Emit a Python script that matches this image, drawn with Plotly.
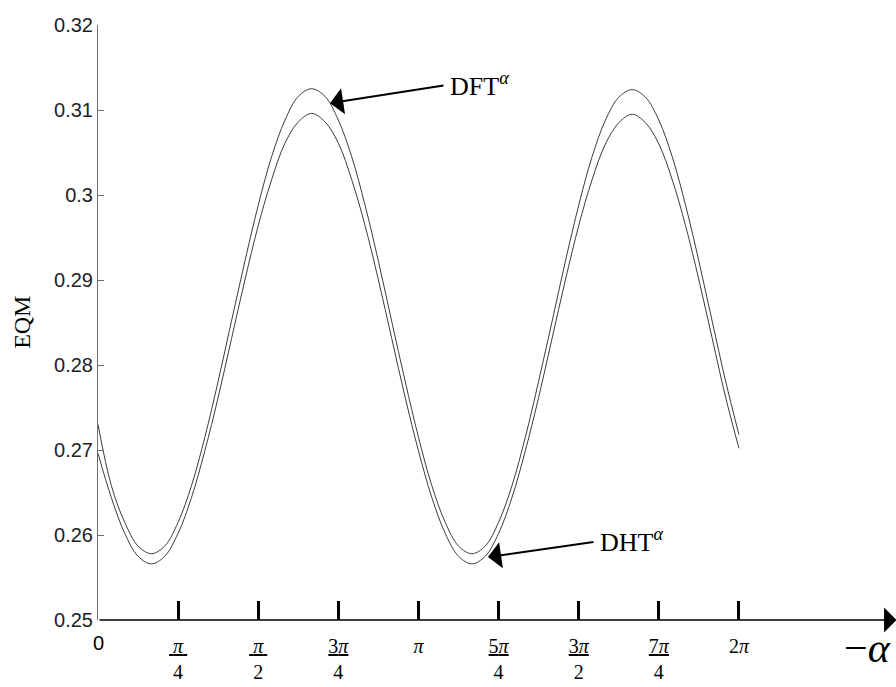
import plotly.graph_objects as go

# ---- data (angle in degrees) ----
alpha_deg = [0, 7.5, 15, 22.5, 30, 37.5, 45, 52.5, 60, 67.5, 75, 82.5, 90, 97.5,
             105, 112.5, 120, 127.5, 135, 142.5, 150, 157.5, 165, 172.5, 180,
             187.5, 195, 202.5, 210, 217.5, 225, 232.5, 240, 247.5, 255, 262.5,
             270, 277.5, 285, 292.5, 300, 307.5, 315, 322.5, 330, 337.5, 345,
             352.5, 360]
eqm_dft = [0.2730, 0.2658, 0.2615, 0.2587, 0.2578, 0.2587, 0.2615, 0.2658, 0.2715,
           0.2781, 0.2852, 0.2922, 0.2988, 0.3045, 0.3088, 0.3116, 0.3125, 0.3116,
           0.3088, 0.3045, 0.2988, 0.2922, 0.2851, 0.2781, 0.2715, 0.2658, 0.2615,
           0.2587, 0.2578, 0.2587, 0.2615, 0.2658, 0.2715, 0.2781, 0.2851, 0.2922,
           0.2988, 0.3045, 0.3088, 0.3115, 0.3124, 0.3115, 0.3088, 0.3045, 0.2988,
           0.2922, 0.2851, 0.2781, 0.2718]
eqm_dht = [0.2696, 0.2644, 0.2602, 0.2575, 0.2566, 0.2575, 0.2602, 0.2644, 0.2699,
           0.2762, 0.2831, 0.2900, 0.2964, 0.3018, 0.3061, 0.3086, 0.3096, 0.3086,
           0.3061, 0.3018, 0.2964, 0.2900, 0.2831, 0.2762, 0.2699, 0.2644, 0.2602,
           0.2575, 0.2566, 0.2575, 0.2602, 0.2644, 0.2699, 0.2762, 0.2831, 0.2900,
           0.2964, 0.3018, 0.3060, 0.3085, 0.3095, 0.3085, 0.3060, 0.3018, 0.2964,
           0.2900, 0.2831, 0.2762, 0.2702]

T = "\u2009"
x_tick_vals = [45, 90, 135, 180, 225, 270, 315, 360]
x_tick_text = [f"<u>{T}<i>π</i>{T}</u><br>4", f"<u>{T}<i>π</i>{T}</u><br>2",
               f"<u>3<i>π</i></u><br>4", "<i>π</i>",
               f"<u>5<i>π</i></u><br>4", f"<u>3<i>π</i></u><br>2",
               f"<u>7<i>π</i></u><br>4", "2<i>π</i>"]
y_tick_vals = [0.25, 0.26, 0.27, 0.28, 0.29, 0.30, 0.31, 0.32]
y_tick_text = ["0.25", "0.26", "0.27", "0.28", "0.29", "0.3", "0.31", "0.32"]

X_MAX = 443.7
SERIF = "Liberation Serif"
SANS = "Liberation Sans"

fig = go.Figure()
fig.add_trace(go.Scatter(x=alpha_deg, y=eqm_dft, mode="lines", name="DFT",
                         line=dict(color="#3c3c3c", width=1, shape="spline")))
fig.add_trace(go.Scatter(x=alpha_deg, y=eqm_dht, mode="lines", name="DHT",
                         line=dict(color="#3c3c3c", width=1, shape="spline")))

fig.update_layout(
    width=896, height=687,
    margin=dict(l=98, r=8, t=25, b=67),
    paper_bgcolor="white", plot_bgcolor="white",
    showlegend=False,
    xaxis=dict(range=[0, X_MAX], showgrid=False, zeroline=False, showline=False,
               automargin=False,
               tickvals=x_tick_vals, ticktext=x_tick_text,
               ticks="inside", ticklen=19, tickwidth=3, tickcolor="black",
               tickfont=dict(family=SERIF, size=20, color="black"),
               ticklabelstandoff=12),
    yaxis=dict(range=[0.25, 0.32], showgrid=False, zeroline=False,
               automargin=False,
               showline=True, linecolor="#6e6e6e", linewidth=1,
               tickvals=y_tick_vals, ticktext=y_tick_text,
               ticks="inside", ticklen=6, tickcolor="#6e6e6e",
               tickfont=dict(family=SANS, size=20, color="#222")),
)

annotations = [
    # x axis drawn as arrow
    dict(x=448.5, y=0.25, ax=0, ay=0.25, xref="x", yref="y", axref="x", ayref="y",
         text="", showarrow=True, arrowhead=1, arrowsize=2.6, arrowwidth=1.6,
         arrowcolor="black"),
    # DFT arrow + label
    dict(x=130.3, y=0.3108, ax=194.9, ay=0.3129, xref="x", yref="y", axref="x", ayref="y",
         text="", showarrow=True, arrowhead=1, arrowsize=2.2, arrowwidth=2,
         arrowcolor="black"),
    dict(x=196.6, y=0.3130, xref="x", yref="y", text="DFT<sup><i>α</i></sup>",
         showarrow=False, xanchor="left", yanchor="middle",
         font=dict(family=SERIF, size=26, color="black")),
    # DHT arrow + label
    dict(x=219.0, y=0.2574, ax=279.1, ay=0.2592, xref="x", yref="y", axref="x", ayref="y",
         text="", showarrow=True, arrowhead=1, arrowsize=2.2, arrowwidth=2,
         arrowcolor="black"),
    dict(x=280.8, y=0.2593, xref="x", yref="y", text="DHT<sup><i>α</i></sup>",
         showarrow=False, xanchor="left", yanchor="middle",
         font=dict(family=SERIF, size=26, color="black")),
    # origin label
    dict(x=0, y=0.25, xref="x", yref="y", text="0", showarrow=False,
         xanchor="center", yanchor="top", yshift=-10,
         font=dict(family=SANS, size=20, color="black")),
    # -alpha axis label
    dict(x=0.942, y=-0.047, xref="paper", yref="paper", text="−<i>α</i>",
         showarrow=False, xanchor="left", yanchor="middle",
         font=dict(family=SERIF, size=42, color="black")),
    # y title
    dict(x=-0.097, y=0.5, xref="paper", yref="paper", text="EQM", showarrow=False,
         textangle=-90, xanchor="center", yanchor="middle",
         font=dict(family=SERIF, size=24, color="black")),
]
fig.update_layout(annotations=annotations)

fig.write_html("out.html")
